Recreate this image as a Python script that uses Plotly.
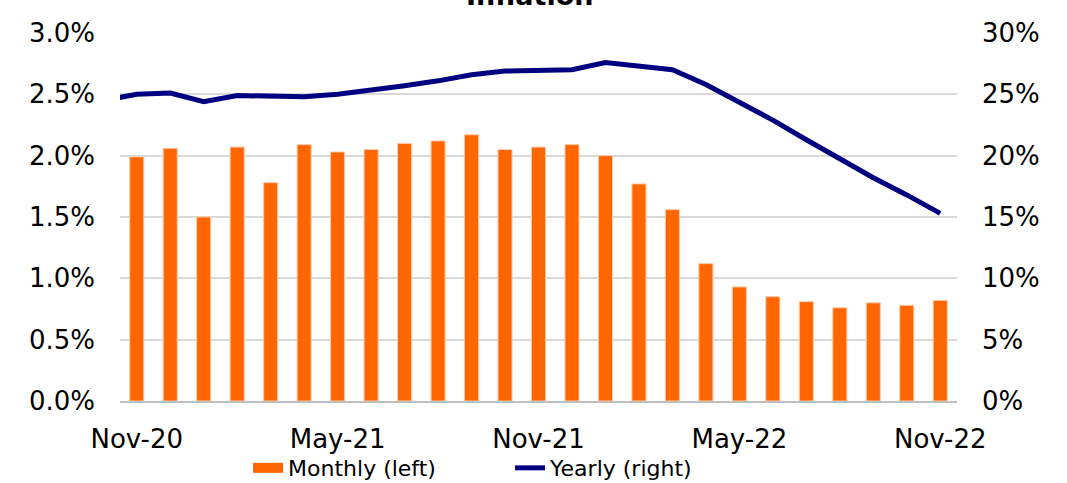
import plotly.graph_objects as go

months = ["Nov-20","Dec-20","Jan-21","Feb-21","Mar-21","Apr-21","May-21","Jun-21","Jul-21",
          "Aug-21","Sep-21","Oct-21","Nov-21","Dec-21","Jan-22","Feb-22","Mar-22","Apr-22",
          "May-22","Jun-22","Jul-22","Aug-22","Sep-22","Oct-22","Nov-22"]
monthly = [1.99, 2.06, 1.50, 2.07, 1.78, 2.09, 2.03, 2.05, 2.10, 2.12, 2.17, 2.05, 2.07,
           2.09, 2.00, 1.77, 1.56, 1.12, 0.93, 0.85, 0.81, 0.76, 0.80, 0.78, 0.82]
# yearly series includes Oct-20 (only partly visible at the left edge)
yearly_months = ["Oct-20"] + months
yearly = [24.5, 25.0, 25.1, 24.4, 24.9, 24.8, 24.8, 25.0, 25.3, 25.7, 26.1, 26.6, 26.9,
          27.0, 27.0, 27.6, 27.3, 27.0, 25.8, 24.4, 22.9, 21.3, 19.7, 18.2, 16.8, 15.3]
tick_labels = ["Nov-20", "May-21", "Nov-21", "May-22", "Nov-22"]
left_ticks = [0, 0.5, 1.0, 1.5, 2.0, 2.5, 3.0]
right_ticks = [0, 5, 10, 15, 20, 25, 30]

xb = list(range(len(months)))
xl = list(range(-1, len(months)))
tickvals = [months.index(t) for t in tick_labels]

FONT = "DejaVu Sans"
ORANGE = "#FF6600"
NAVY = "#000080"

fig = go.Figure()
fig.add_trace(go.Bar(x=xb, y=monthly, name="Monthly (left)", marker_color=ORANGE,
                     marker_line_color="#FFC9A8", marker_line_width=1, width=0.42,
                     yaxis="y", hoverinfo="skip", showlegend=False))
# legend proxy for the bars (wide orange key like the original)
fig.add_trace(go.Scatter(x=[None], y=[None], name="Monthly (left)", mode="lines",
                         line=dict(color=ORANGE, width=12), yaxis="y", hoverinfo="skip"))
fig.add_trace(go.Scatter(x=xl, y=yearly, name="Yearly (right)", mode="lines",
                         line=dict(color=NAVY, width=5), yaxis="y2", hoverinfo="skip"))

fig.add_annotation(text="<b>Inflation</b>", xref="paper", yref="paper", x=0.489, y=1.054,
                   xanchor="center", yanchor="bottom", showarrow=False,
                   font=dict(size=27, family=FONT, color="black"))

fig.update_layout(
    width=1067, height=483,
    margin=dict(l=120, r=110, t=33, b=82, autoexpand=False),
    paper_bgcolor="white", plot_bgcolor="white",
    font=dict(family=FONT, color="black", size=22),
    showlegend=True,
    legend=dict(orientation="h", x=0.153, xanchor="left", yref="container", y=0.031,
                yanchor="middle", font=dict(size=22, family=FONT), entrywidth=217,
                entrywidthmode="pixels", bgcolor="rgba(0,0,0,0)", traceorder="normal"),
    xaxis=dict(range=[-0.5, len(months) - 0.5], tickmode="array", tickvals=tickvals,
               ticktext=tick_labels, showgrid=False, zeroline=False, showline=True,
               linecolor="#BFBFBF", linewidth=2, ticks="", tickfont=dict(size=26),
               ticklabelstandoff=14, automargin=False),
    yaxis=dict(range=[0, 3.0], tickmode="array", tickvals=left_ticks,
               ticktext=[f"{v:.1f}%" for v in left_ticks], showgrid=True,
               gridcolor="#D9D9D9", gridwidth=2, zeroline=False, tickfont=dict(size=26),
               ticklabelstandoff=24, automargin=False),
    yaxis2=dict(range=[0, 30], tickmode="array", tickvals=right_ticks,
                ticktext=[f"{v:.0f}%" for v in right_ticks], overlaying="y", side="right",
                showgrid=False, zeroline=False, tickfont=dict(size=26),
                ticklabelstandoff=24, automargin=False),
    barmode="overlay",
)

fig.write_html("out.html", config={"displayModeBar": False},
               post_script="document.body.style.margin='0';document.body.style.overflow='hidden';")
